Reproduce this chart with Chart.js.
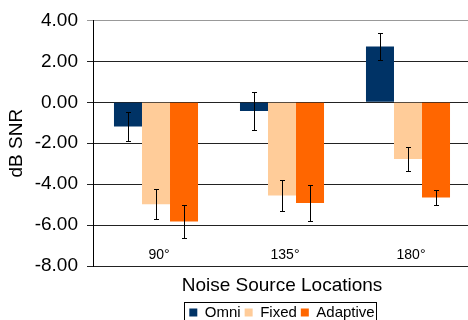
<!DOCTYPE html>
<html>
<head>
<meta charset="utf-8">
<script src="https://cdn.jsdelivr.net/npm/chart.js@4.4.0/dist/chart.umd.min.js"></script>
<style>
html, body { margin: 0; padding: 0; overflow: hidden; background: #fff; }
#wrap { width: 472px; height: 320px; }
</style>
</head>
<body>
<div id="wrap"><canvas id="chart" width="472" height="320"></canvas></div>
<script>
var locations = ["90°", "135°", "180°"];
var omni = [-1.18, -0.43, 2.72];
var fixed = [-4.98, -4.56, -2.77];
var adaptive = [-5.82, -4.92, -4.65];
var omniErr = [0.70, 0.93, 0.65];
var fixedErr = [0.73, 0.74, 0.60];
var adaptiveErr = [0.81, 0.90, 0.37];

var FONT = "'Liberation Sans', Arial, sans-serif";

// draws +/- error whiskers on every bar
var errorBars = {
    id: 'errorBars',
    afterDatasetsDraw: function (c) {
        var ctx = c.ctx, y = c.scales.y;
        ctx.save();
        ctx.strokeStyle = '#000';
        ctx.lineWidth = 1;
        c.data.datasets.forEach(function (ds, i) {
            c.getDatasetMeta(i).data.forEach(function (bar, j) {
                var v = ds.data[j], e = ds.errors[j];
                var x = Math.round(bar.x) + 0.5;
                var top = Math.round(y.getPixelForValue(v + e)) + 0.5;
                var bot = Math.round(y.getPixelForValue(v - e)) + 0.5;
                ctx.beginPath();
                ctx.moveTo(x, top); ctx.lineTo(x, bot);
                ctx.moveTo(x - 2.5, top); ctx.lineTo(x + 2.5, top);
                ctx.moveTo(x - 2.5, bot); ctx.lineTo(x + 2.5, bot);
                ctx.stroke();
            });
        });
        ctx.restore();
    }
};

// category names sit inside the plot, just above the -8 line
var catLabels = {
    id: 'catLabels',
    afterDraw: function (c) {
        var ctx = c.ctx, x = c.scales.x, y = c.scales.y;
        ctx.save();
        ctx.fillStyle = '#000';
        ctx.font = '14px ' + FONT;
        ctx.textAlign = 'center';
        ctx.textBaseline = 'middle';
        c.data.labels.forEach(function (lab, i) {
            ctx.fillText(lab, x.getPixelForValue(i) + 3, y.getPixelForValue(-7.45));
        });
        ctx.restore();
    }
};

// box round the legend like the original
var legendBox = {
    id: 'legendBox',
    afterDraw: function (c) {
        var boxes = c.legend.legendHitBoxes;
        if (!boxes || !boxes.length) return;
        var first = boxes[0], last = boxes[boxes.length - 1];
        var ctx = c.ctx;
        ctx.save();
        ctx.strokeStyle = '#000';
        ctx.lineWidth = 1;
        ctx.strokeRect(Math.round(first.left - 5) + 0.5, Math.round(first.top - 3) + 0.5,
            Math.round(last.left + last.width - first.left + 7), 30);
        ctx.restore();
    }
};

var chart = new Chart(document.getElementById('chart'), {
    type: 'bar',
    data: {
        labels: locations,
        datasets: [
            { label: 'Omni', data: omni, errors: omniErr, backgroundColor: '#003366' },
            { label: 'Fixed', data: fixed, errors: fixedErr, backgroundColor: '#FFCC99' },
            { label: 'Adaptive', data: adaptive, errors: adaptiveErr, backgroundColor: '#FF6600' }
        ]
    },
    options: {
        responsive: false,
        animation: false,
        layout: { padding: { top: 10, right: 1, left: 0, bottom: -10 } },
        datasets: {
            bar: { categoryPercentage: 0.667, barPercentage: 1.0, borderWidth: 0 }
        },
        scales: {
            x: {
                grid: { display: false },
                border: { display: false },
                ticks: { display: false },
                title: { display: true, text: 'Noise Source Locations', color: '#000', font: { family: FONT, size: 19 }, padding: { top: 0, bottom: 4 } },
                afterFit: function (s) { s.height = 35; }
            },
            y: {
                min: -8, max: 4,
                ticks: {
                    stepSize: 2, color: '#000', padding: 9,
                    font: { family: FONT, size: 19 },
                    callback: function (v) { return v.toFixed(2); }
                },
                grid: {
                    tickLength: 6,
                    color: function (ctx) { return ctx.tick && ctx.tick.value === 4 ? '#999' : '#222'; }
                },
                border: { color: '#000', width: 1 },
                title: { display: true, text: 'dB SNR', color: '#000', font: { family: FONT, size: 19 }, padding: { top: 5, bottom: 0 } },
                afterFit: function (s) { s.width = 93; }
            }
        },
        plugins: {
            tooltip: { enabled: false },
            legend: {
                position: 'bottom',
                fullSize: false,
                labels: { boxWidth: 8, boxHeight: 8, padding: 4, color: '#000', font: { family: FONT, size: 15 } }
            }
        }
    },
    plugins: [errorBars, catLabels, legendBox]
});
</script>
</body>
</html>
